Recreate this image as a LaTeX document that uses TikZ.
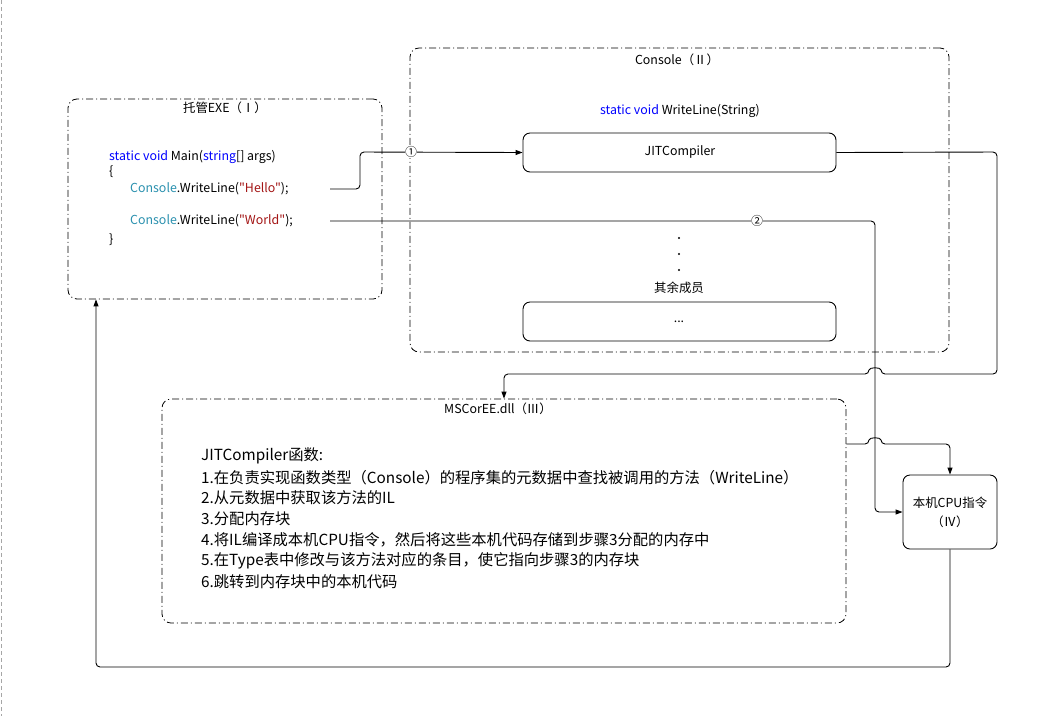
\documentclass[tikz,border=0pt]{standalone}
\usepackage{fontspec}
\setmainfont{Noto Sans CJK SC}
\newfontfamily\codefont{Noto Sans CJK SC}
\usetikzlibrary{arrows.meta}
\definecolor{kw}{HTML}{0000FF}
\definecolor{cls}{HTML}{2B91AF}
\definecolor{str}{HTML}{A31515}
\tikzset{
  grp/.style={draw, line width=0.8pt, rounded corners=9pt, dash pattern=on 7pt off 3pt on 1pt off 3pt, inner sep=0pt},
  solidbox/.style={draw, line width=0.9pt, rounded corners=7pt, inner sep=0pt},
  txt/.style={inner sep=0pt, font=\fontsize{12.4}{14}\selectfont},
  code/.style={inner sep=0pt, anchor=west, font=\codefont\fontsize{12.4}{14}\selectfont},
  list/.style={inner sep=0pt, anchor=west, font=\fontsize{15.3}{17}\selectfont},
  conn/.style={draw, line width=0.9pt, rounded corners=4pt},
  arr/.style={conn, -{Triangle[length=7pt,width=5pt]}},
  circ/.style={inner sep=0.3pt, fill=white, font=\fontsize{12}{14}\selectfont}
}
\begin{document}
\begin{tikzpicture}[x=1pt, y=-1pt]
\useasboundingbox (0,0) rectangle (1052,716);
\fill[white] (0,0) rectangle (1052,716);
\draw[gray!70, line width=0.8pt, dash pattern=on 4pt off 3pt] (1,0) -- (1,716);

% groups
\node[grp, minimum width=314pt, minimum height=200pt] (exe) at (225,199) {};
\node[txt] (exet) at (225,108) {托管EXE（Ⅰ）};
\node[grp, minimum width=539pt, minimum height=304pt] (console) at (679.5,200) {};
\node[txt] (const) at (677,60) {Console（Ⅱ）};
\node[grp, minimum width=684pt, minimum height=224pt] (mscoree) at (504,511) {};
\node[txt] (mst) at (498,409) {MSCorEE.dll（Ⅲ）};

% code in EXE
\node[code] (l1) at (109,157) {\textcolor{kw}{static void} Main(\textcolor{kw}{string}[] args)};
\node[code] (l2) at (109,172) {\{};
\node[code] (l3) at (130,189) {\textcolor{cls}{Console}.WriteLine(\textcolor{str}{"Hello"});};
\node[code] (l4) at (130,221) {\textcolor{cls}{Console}.WriteLine(\textcolor{str}{"World"});};
\node[code] (l5) at (109,240) {\}};
\coordinate (hello) at (330,189);
\coordinate (world) at (330,221);

% console contents
\node[txt] (sig) at (680,111) {\textcolor{kw}{static void} WriteLine(String)};
\node[solidbox, minimum width=313pt, minimum height=39pt] (jit) at (679.5,152.5) {};
\node[txt] (jitt) at (680,152) {JITCompiler};
\fill (679,238) circle (1.1pt) (679,254) circle (1.1pt) (679,270) circle (1.1pt);
\node[txt] (rest) at (679,288) {其余成员};
\node[solidbox, minimum width=313pt, minimum height=39pt] (more) at (679.5,321.5) {};
\node[txt] (moret) at (679,322) {...};

% MSCorEE list
\node[list] (m0) at (201,456) {JITCompiler函数:};
\node[list] (m1) at (201,478) {1.在负责实现函数类型（Console）的程序集的元数据中查找被调用的方法（WriteLine）};
\node[list] (m2) at (201,498) {2.从元数据中获取该方法的IL};
\node[list] (m3) at (201,519) {3.分配内存块};
\node[list] (m4) at (201,540) {4.将IL编译成本机CPU指令，然后将这些本机代码存储到步骤3分配的内存中};
\node[list] (m5) at (201,561) {5.在Type表中修改与该方法对应的条目，使它指向步骤3的内存块};
\node[list] (m6) at (201,582) {6.跳转到内存块中的本机代码};

% CPU
\node[solidbox, minimum width=94pt, minimum height=74pt] (cpu) at (950,512) {};
\node[txt] (cput1) at (950,503) {本机CPU指令};
\node[txt] (cput2) at (950,522) {（Ⅳ）};

% connectors
\draw[arr] (hello) -- (360,189) -- (360,152) -- (jit.west);
\node[circ] (c1) at (411,152) {①};
\draw[arr] (world) -- (875,221) -- (875,512) -- (cpu.west);
\node[circ] (c2) at (757,221) {②};
\draw[arr] (jit.east) -- (997,152) -- (997,374) -- (881,374) .. controls (881,367) and (869,367) .. (869,374) -- (504,374) -- (mscoree.north);
\draw[arr] ([yshift=67pt]mscoree.east) -- (869,444) .. controls (869,437) and (881,437) .. (881,444) -- (950,444) -- (cpu.north);
\draw[arr] (cpu.south) -- (950,667) -- (96,667) -- ([xshift=-129pt]exe.south);
\end{tikzpicture}
\end{document}
